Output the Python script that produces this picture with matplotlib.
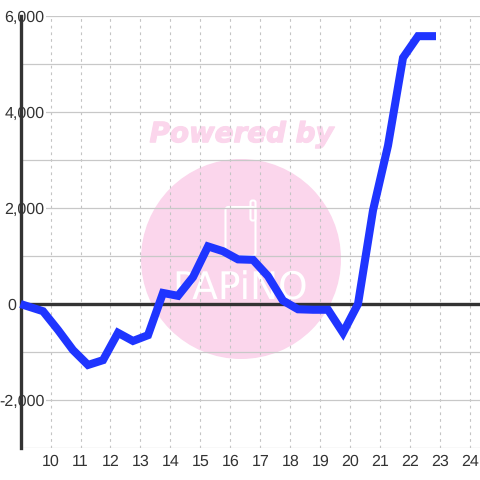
import matplotlib
matplotlib.use("Agg")
import matplotlib.pyplot as plt
from matplotlib.patches import Circle, FancyBboxPatch
from matplotlib.ticker import FuncFormatter
import matplotlib.patheffects as pe

hours = [9, 9.25, 9.75, 10.25, 10.75, 11.25, 11.75, 12.25, 12.75, 13.25, 13.75, 14.25,
         14.75, 15.25, 15.75, 16.25, 16.75, 17.25, 17.75, 18.25, 18.75, 19.25, 19.75,
         20.25, 20.75, 21.25, 21.75, 22.25, 22.85]
values = [0, -50, -150, -540, -960, -1270, -1170, -600, -770, -650, 230, 170,
          560, 1200, 1100, 930, 920, 580, 70, -110, -120, -120, -600,
          0, 1950, 3300, 5130, 5580, 5580]
x_ticks = list(range(10, 25))
y_major = [-2000, 0, 2000, 4000, 6000]
y_grid = [-3000, -2000, -1000, 0, 1000, 2000, 3000, 4000, 5000, 6000]

plt.rcParams['font.family'] = ['Liberation Sans', 'DejaVu Sans']
plt.rcParams['text.hinting'] = 'none'
fig = plt.figure(figsize=(4.8, 4.8), dpi=100, facecolor='white')
L, R, T, B = 20.5, 480.5, 16.0, 448.0
ax = fig.add_axes([L/480, 1-B/480, (R-L)/480, (B-T)/480], zorder=5)
ax.set_xlim(9, 9 + (R-L)/30)
ax.set_ylim(-3000, 6000)
ax.patch.set_alpha(0)

PINK = '#fbd6ec'
bg = fig.add_axes([0, 0, 1, 1], zorder=0)
bg.set_xlim(0, 480)
bg.set_ylim(480, 0)
bg.axis('off')
bg.add_patch(Circle((241, 259), 100, facecolor=PINK, edgecolor='none'))
bg.add_patch(FancyBboxPatch((225.5, 207), 30, 49, boxstyle='round,pad=0,rounding_size=3',
                            facecolor='none', edgecolor='white', linewidth=1.5))
bg.add_patch(FancyBboxPatch((250.5, 200.5), 5, 20, boxstyle='round,pad=0,rounding_size=2',
                            facecolor='none', edgecolor='white', linewidth=1.5))
bg.text(241.5, 134.5, 'Powered by', color=PINK, fontsize=20, fontweight='bold',
        fontstyle='italic', family='DejaVu Sans', ha='center', va='center',
        path_effects=[pe.withStroke(linewidth=0.9, foreground=PINK)])
bg.text(240, 289, 'PAPiNO', color='white', fontsize=27, family='DejaVu Sans',
        ha='center', va='center')

ax.set_yticks(y_major)
ax.set_yticks(y_grid, minor=True)
ax.set_xticks(x_ticks)
ax.yaxis.set_major_formatter(FuncFormatter(lambda v, _: f'{int(v):,}'))
ax.grid(True, which='minor', axis='y', color='#c8c8c8', linewidth=0.9, zorder=1)
ax.grid(True, which='major', axis='y', color='#c8c8c8', linewidth=0.9, zorder=1)
ax.grid(True, which='major', axis='x', color='#c4c4c4', linewidth=0.8, linestyle=(0, (2.5, 3.5)), zorder=1)
ax.set_axisbelow(True)

for s in ['top', 'right', 'bottom']:
    ax.spines[s].set_visible(False)
ax.spines['left'].set_color('#333333')
ax.spines['left'].set_linewidth(2.4)
ax.spines['left'].set_zorder(2)
ax.axhline(0, color='#333333', linewidth=2.4, zorder=2)

ax.plot(hours, values, color='#1f35ff', linewidth=5.8, solid_joinstyle='miter',
        solid_capstyle='butt', zorder=3, clip_on=False)

ax.tick_params(which='both', length=0)
ax.tick_params(axis='x', labelsize=11.5, labelcolor='#333333', pad=4.8)
ax.tick_params(axis='y', labelsize=11.5, labelcolor='#333333', pad=-17.3)
for tick, v in zip(ax.yaxis.get_major_ticks(), y_major):
    if v == 0:
        tick.set_pad(2.9)
    tick.label1.set_zorder(6)
    tick.label1.set_bbox(dict(facecolor='white', edgecolor='none', pad=1.0))

fig.savefig('out.png', dpi=100)
